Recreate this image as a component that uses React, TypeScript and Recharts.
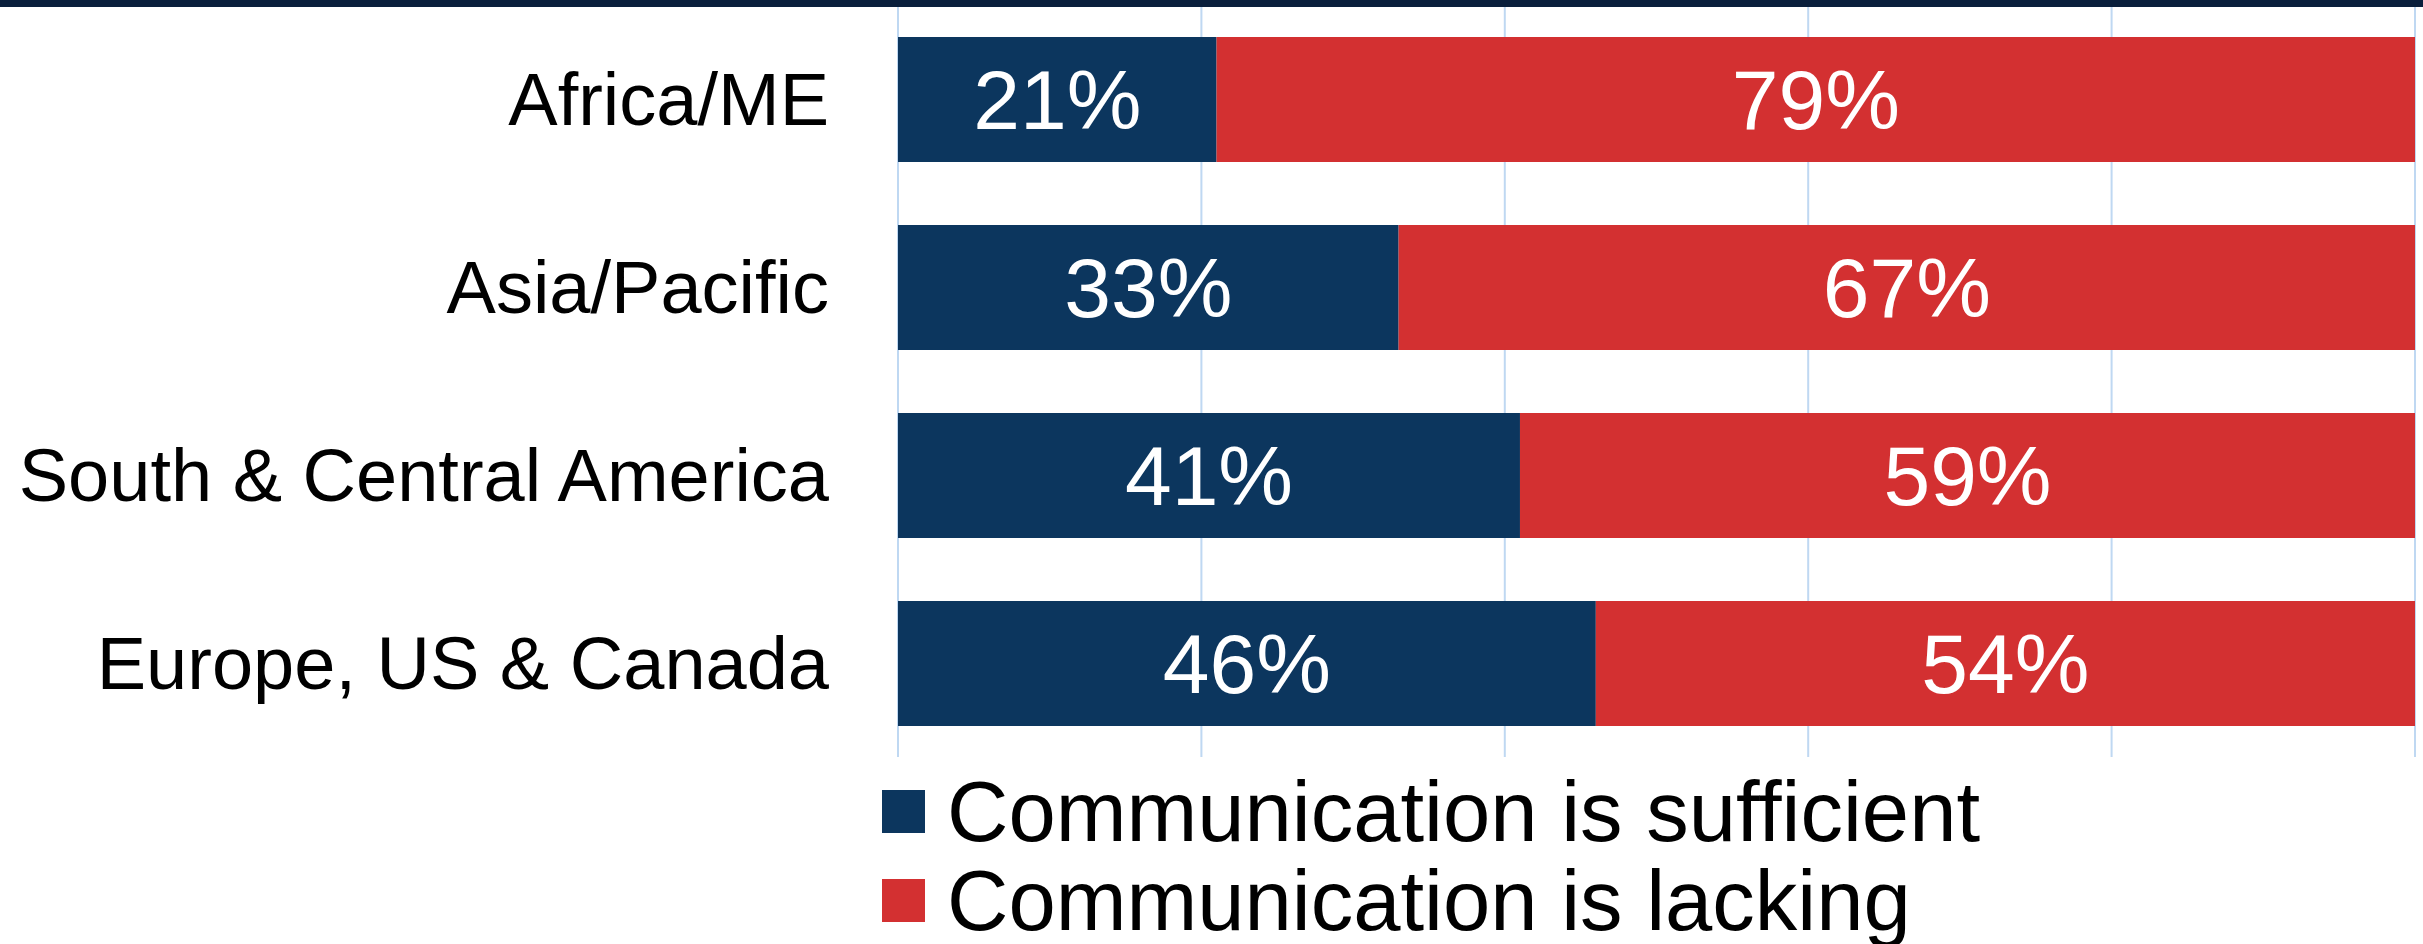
import { BarChart, Bar, XAxis, YAxis, CartesianGrid, Legend, LabelList } from "recharts";

const regions = ["Africa/ME", "Asia/Pacific", "South & Central America", "Europe, US & Canada"];
const sufficient = [21, 33, 41, 46];
const lacking = [79, 67, 59, 54];
const xTicks = [0, 20, 40, 60, 80, 100];

const seriesNames = ["Communication is sufficient", "Communication is lacking"];
const BLUE = "#0c365e";
const RED = "#d33031";

const data = regions.map((region, i) => ({
  region,
  sufficient: sufficient[i],
  lacking: lacking[i],
}));

function LegendBox() {
  const items = [
    { label: seriesNames[0], color: BLUE },
    { label: seriesNames[1], color: RED },
  ];
  return (
    <div>
      {items.map((it) => (
        <div key={it.label} style={{ display: "flex", alignItems: "center", height: 89 }}>
          <span style={{ width: 43, height: 43, background: it.color, marginRight: 22, flex: "none" }} />
          <span style={{ fontSize: 85, lineHeight: "89px", color: "#000", whiteSpace: "nowrap" }}>{it.label}</span>
        </div>
      ))}
    </div>
  );
}

export default function App() {
  return (
    <div
      style={{
        position: "absolute",
        left: 0,
        top: 0,
        width: 2423,
        height: 944,
        background: "#fff",
        fontFamily: "'Liberation Sans', Arial, sans-serif",
      }}
    >
      <BarChart
        width={2423}
        height={944}
        data={data}
        layout="vertical"
        margin={{ top: 5, right: 8, bottom: 187, left: 0 }}
      >
        <CartesianGrid horizontal={false} stroke="#bfd8f2" strokeWidth={2} />
        <XAxis
          type="number"
          domain={[0, 100]}
          ticks={xTicks}
          interval={0}
          height={0}
          tick={{ fontSize: 0, fill: "none" }}
          axisLine={false}
          tickLine={false}
        />
        <YAxis
          type="category"
          dataKey="region"
          width={898}
          axisLine={false}
          tickLine={false}
          tickSize={0}
          tickMargin={69}
          tick={{ fill: "#000", fontSize: 74 }}
        />
        <Legend
          layout="vertical"
          verticalAlign="middle"
          align="center"
          content={() => <LegendBox />}
          wrapperStyle={{ left: 882, top: 767, width: 1400, height: 178 }}
        />
        <Bar dataKey="sufficient" stackId="a" fill={BLUE} barSize={125} isAnimationActive={false}>
          <LabelList dataKey="sufficient" position="center" fill="#fff" fontSize={84} formatter={(v: any) => `${v}%`} />
        </Bar>
        <Bar dataKey="lacking" stackId="a" fill={RED} barSize={125} isAnimationActive={false}>
          <LabelList dataKey="lacking" position="center" fill="#fff" fontSize={84} formatter={(v: any) => `${v}%`} />
        </Bar>
      </BarChart>
      <div style={{ position: "absolute", left: 0, top: 0, width: 2423, height: 7, background: "#0a1f3c" }} />
    </div>
  );
}
